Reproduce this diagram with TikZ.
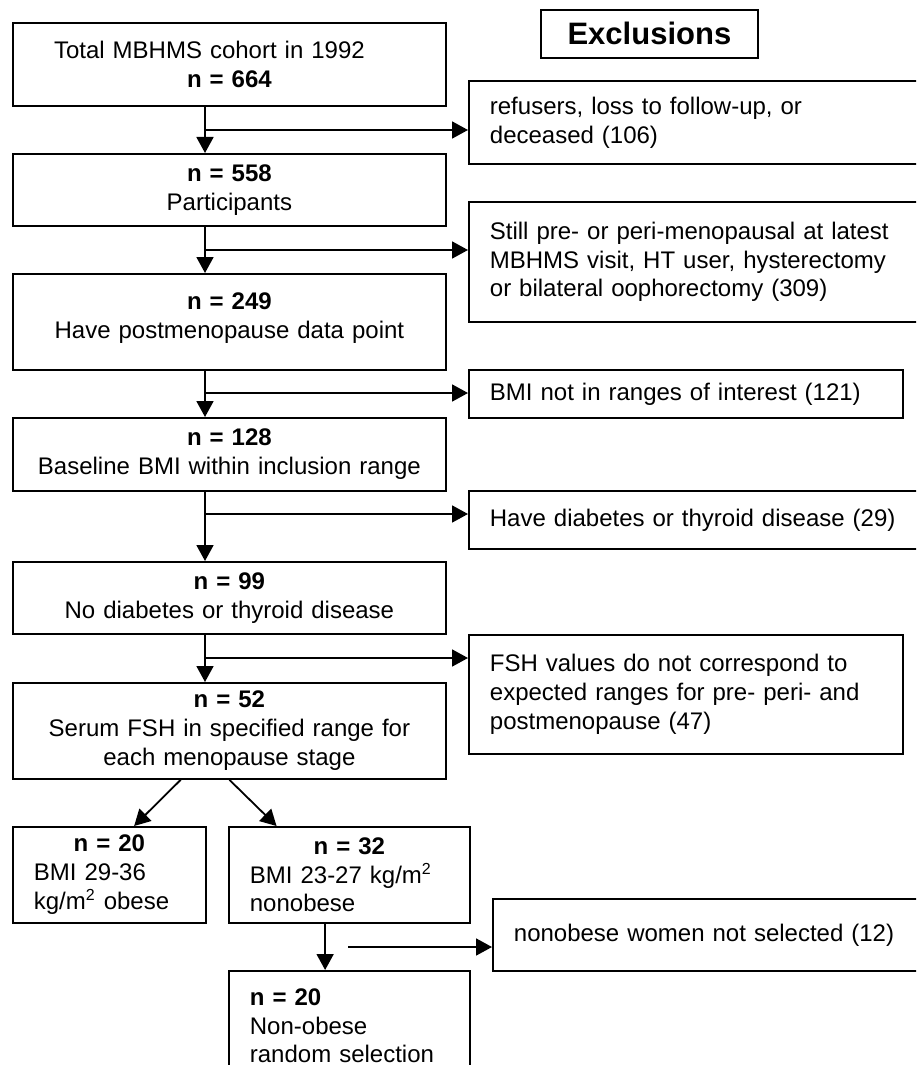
\documentclass[tikz,border=0pt]{standalone}
\usepackage{fontspec}
\setmainfont{Liberation Sans}
\usetikzlibrary{arrows.meta,calc}

\begin{document}
\begin{tikzpicture}[
            x=0.5pt, y=-0.5pt,
            caja/.style={draw, line width=0.9pt, anchor=north west, inner sep=0pt, align=center, font=\fontsize{12}{14.4}\selectfont},
            excl/.style={caja, align=left, inner xsep=10.5pt},
            flecha/.style={-{Triangle[length=8pt,width=8.5pt]}, line width=0.9pt}
        ]
\useasboundingbox (0,0) rectangle (916,1065);
\clip (0,0) rectangle (916,1065);

% cohorte
\node[caja, text width=216.5pt, minimum height=41.5pt] (total) at (12,22) {Total MBHMS cohort in 1992\hspace*{20pt}\mbox{}\\\textbf{n = 664}};
\node[caja, text width=216.5pt, minimum height=36pt] (part) at (12,153) {\textbf{n = 558}\\Participants};
\node[caja, text width=216.5pt, minimum height=48pt] (post) at (12,273) {\textbf{n = 249}\\Have postmenopause data point\\[-8pt]\mbox{}};
\node[caja, text width=216.5pt, minimum height=36.5pt] (bmi) at (12,417) {\textbf{n = 128}\\Baseline BMI within inclusion range};
\node[caja, text width=216.5pt, minimum height=36pt] (nodiab) at (12,561) {\textbf{n = 99}\\No diabetes or thyroid disease};
\node[caja, text width=216.5pt, minimum height=48pt] (fsh) at (12,682) {\textbf{n = 52}\\Serum FSH in specified range for\\each menopause stage};
\node[excl, text width=75.5pt, minimum height=48pt] (obeso) at (12,826) {\hfill\textbf{n = 20}\hfill\null\\BMI 29-36\\kg/m\textsuperscript{2} obese};
\node[excl, text width=99.5pt, minimum height=48pt] (noobeso) at (228,826) {\hfill\textbf{n = 32}\hfill\null\\BMI 23-27 kg/m\textsuperscript{2}\\nonobese};
\node[excl, text width=99.5pt, minimum height=55pt] (azar) at (228,970) {\textbf{n = 20}\\Non-obese\\random selection};

% exclusiones
\node[caja, text width=108.5pt, minimum height=24pt, font=\fontsize{15.5}{18}\selectfont\bfseries] (titulo) at (540,9) {Exclusions};
\node[excl, text width=215pt, minimum height=41.5pt] (ex1) at (468,80) {refusers, loss to follow-up, or\\deceased (106)};
\node[excl, text width=215pt, minimum height=60pt] (ex2) at (468,201) {Still pre- or peri-menopausal at latest\\MBHMS visit, HT user, hysterectomy\\or bilateral oophorectomy (309)};
\node[excl, text width=196pt, minimum height=24pt] (ex3) at (468,369) {BMI not in ranges of interest (121)};
\node[excl, text width=215pt, minimum height=29pt] (ex4) at (468,490) {Have diabetes or thyroid disease (29)};
\node[excl, text width=196pt, minimum height=59.5pt] (ex5) at (468,634) {FSH values do not correspond to\\expected ranges for pre- peri- and\\postmenopause (47)};
\node[excl, text width=203pt, minimum height=36pt] (ex6) at (492,898) {nonobese women not selected (12)};

\coordinate (eje) at (205,0);
\coordinate (r1) at (205,130);
\coordinate (r2) at (205,250);
\coordinate (r3) at (205,393);
\coordinate (r4) at (205,514);
\coordinate (r5) at (205,658);
\coordinate (r6) at (348,947);

\draw[flecha] (total.south -| eje) -- (part.north -| eje);
\draw[flecha] (part.south -| eje) -- (post.north -| eje);
\draw[flecha] (post.south -| eje) -- (bmi.north -| eje);
\draw[flecha] (bmi.south -| eje) -- (nodiab.north -| eje);
\draw[flecha] (nodiab.south -| eje) -- (fsh.north -| eje);

\draw[flecha] (r1) -- (r1 -| ex1.west);
\draw[flecha] (r2) -- (r2 -| ex2.west);
\draw[flecha] (r3) -- (r3 -| ex3.west);
\draw[flecha] (r4) -- (r4 -| ex4.west);
\draw[flecha] (r5) -- (r5 -| ex5.west);
\draw[flecha] (r6) -- (r6 -| ex6.west);

\draw[flecha] ($(fsh.south west)!0.388!(fsh.south east)$) -- ($(obeso.north west)!0.627!(obeso.north east)$);
\draw[flecha] (fsh.south) -- ($(noobeso.north west)!0.2!(noobeso.north east)$);
\draw[flecha] ($(noobeso.south west)!0.4!(noobeso.south east)$) -- ($(azar.north west)!0.4!(azar.north east)$);
\end{tikzpicture}
\end{document}
